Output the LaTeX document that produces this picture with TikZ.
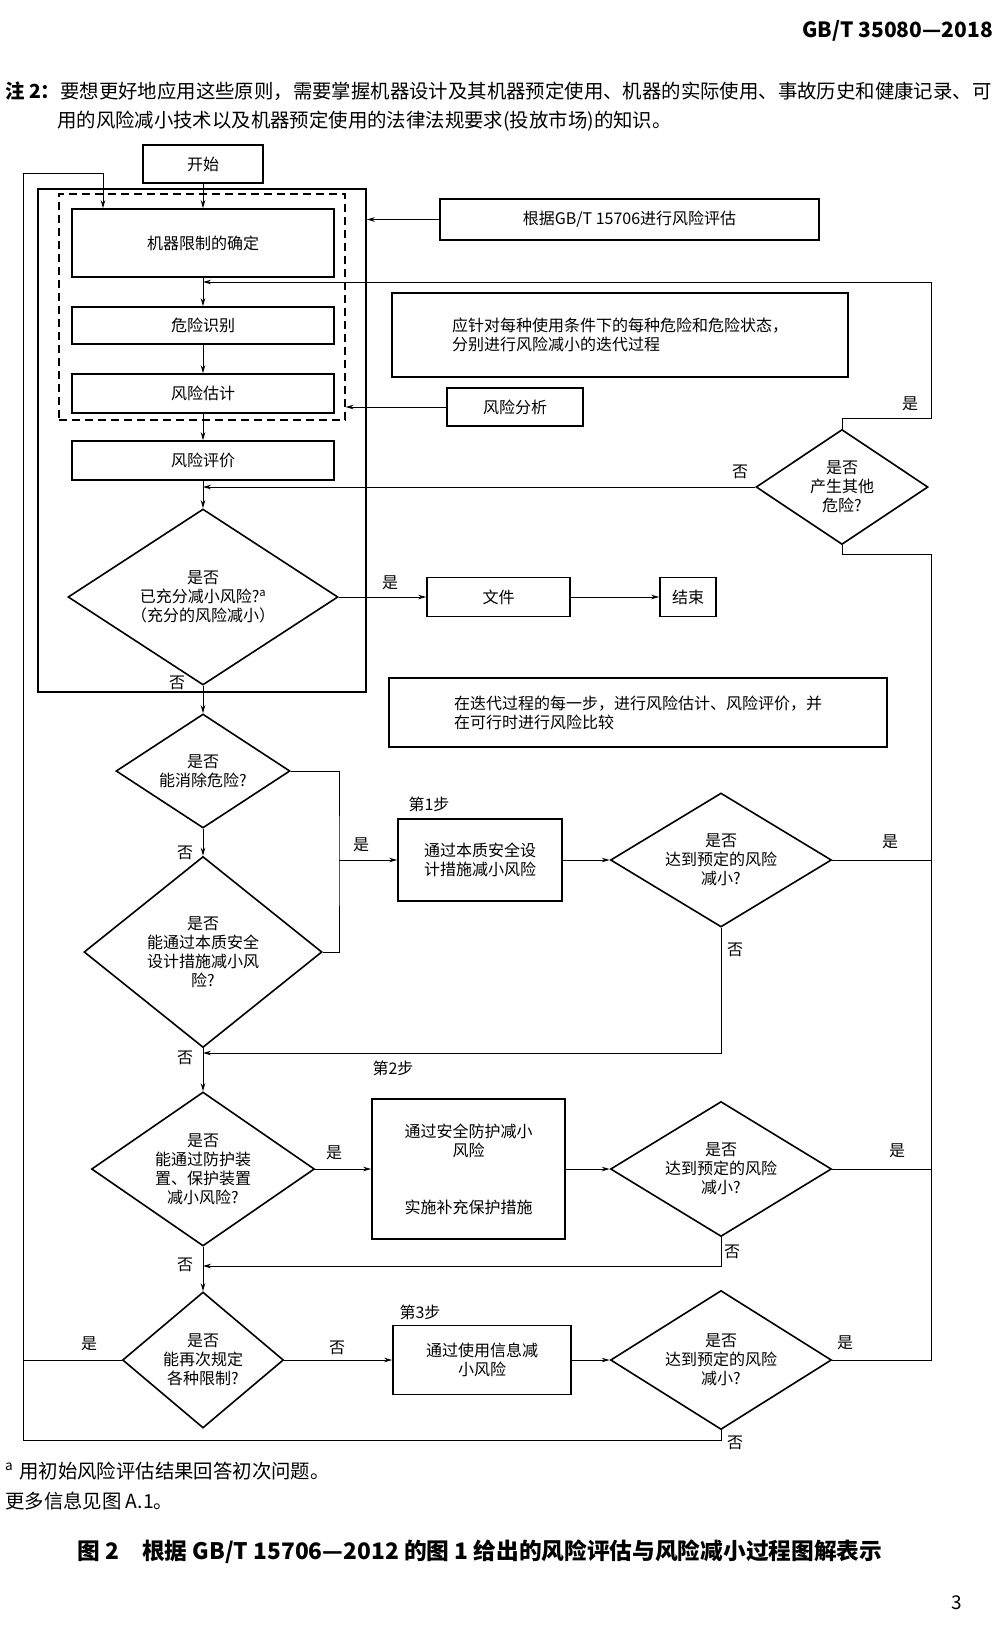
\documentclass[tikz,border=0pt]{standalone}
\usepackage{fontspec}
\setmainfont{Noto Sans CJK SC}
\usetikzlibrary{shapes.geometric,arrows.meta}
\tikzset{
  stepbox/.style={draw, line width=1.6pt, inner sep=2pt, align=center, font=\fontsize{16}{19}\selectfont},
  decision/.style={diamond, draw, line width=1.6pt, inner sep=0pt, shape aspect=1.4, align=center, font=\fontsize{16}{19}\selectfont},
  flow/.style={line width=1pt, -{Stealth[length=8pt,width=4.5pt]}},
  link/.style={line width=1pt},
  lbl/.style={font=\fontsize{16}{19}\selectfont, inner sep=0pt},
  para/.style={anchor=west, inner sep=0pt, font=\fontsize{19.4}{24}\selectfont}
}

\begin{document}
\begin{tikzpicture}[x=1pt,y=-1pt]
\useasboundingbox (0,0) rectangle (1000,1626);
\node[anchor=east, inner sep=0pt, font=\fontsize{21}{24}\selectfont\bfseries] (hdr) at (993,31) {GB/T 35080—2018};
\node[para] (note1) at (5,91) {{\bfseries 注 2：}要想更好地应用这些原则，需要掌握机器设计及其机器预定使用、机器的实际使用、事故历史和健康记录、可};
\node[para] (note2) at (57,121) {用的风险减小技术以及机器预定使用的法律法规要求(投放市场)的知识。};

\node[draw, line width=1.6pt, minimum width=328pt, minimum height=503pt, inner sep=0pt] (outer) at (202,440.5) {};
\node[draw, dash pattern=on 8pt off 5pt, line width=1.2pt, minimum width=286pt, minimum height=226pt, inner sep=0pt] (anabox) at (202,307) {};

\node[stepbox, minimum width=120pt, minimum height=38pt] (start) at (203,164) {开始};
\node[stepbox, minimum width=262pt, minimum height=68pt] (limits) at (203,243) {机器限制的确定};
\node[stepbox, minimum width=262pt, minimum height=37pt] (hazard) at (203,325.5) {危险识别};
\node[stepbox, minimum width=262pt, minimum height=39pt] (estim) at (203,393.5) {风险估计};
\node[stepbox, minimum width=262pt, minimum height=39pt] (evalu) at (203,460.5) {风险评价};
\node[decision, minimum width=270pt, minimum height=176pt] (adequate) at (203,597) {是否\\已充分减小风险?\textsuperscript{a}\\（充分的风险减小）};
\node[stepbox, minimum width=143pt, minimum height=39pt] (docu) at (498.5,597) {文件};
\node[stepbox, minimum width=56pt, minimum height=39pt] (finish) at (688,597) {结束};

\node[stepbox, minimum width=379pt, minimum height=41pt] (assess) at (629.5,219.5) {根据GB/T 15706进行风险评估};
\node[stepbox, minimum width=456pt, minimum height=84pt, align=left] (iterate) at (620,335) {应针对每种使用条件下的每种危险和危险状态，\\分别进行风险减小的迭代过程};
\node[stepbox, minimum width=136pt, minimum height=38pt] (analysis) at (515,407) {风险分析};
\node[decision, minimum width=172pt, minimum height=115pt] (other) at (842,487) {是否\\产生其他\\危险?};
\node[stepbox, minimum width=498pt, minimum height=69pt, align=left] (stepnote) at (638,712.5) {在迭代过程的每一步，进行风险估计、风险评价，并\\在可行时进行风险比较};

\node[decision, minimum width=174pt, minimum height=114pt] (elim) at (203,771) {是否\\能消除危险?};
\node[decision, minimum width=238pt, minimum height=191pt] (inher) at (203,952) {是否\\能通过本质安全\\设计措施减小风\\险?};
\node[stepbox, minimum width=164pt, minimum height=82pt, align=left] (box1) at (480,860) {通过本质安全设\\计措施减小风险};
\node[decision, shape aspect=1.6, minimum width=221pt, minimum height=134pt] (reach1) at (721,860) {是否\\达到预定的风险\\减小?};

\node[decision, minimum width=223pt, minimum height=154pt] (guard) at (203,1169) {是否\\能通过防护装\\置、保护装置\\减小风险?};
\node[stepbox, minimum width=193pt, minimum height=140pt] (box2) at (468.5,1169) {通过安全防护减小\\风险\\[38pt]实施补充保护措施};
\node[decision, shape aspect=1.6, minimum width=221pt, minimum height=135pt] (reach2) at (721,1169) {是否\\达到预定的风险\\减小?};

\node[decision, minimum width=161pt, minimum height=136pt] (limit) at (203,1360) {是否\\能再次规定\\各种限制?};
\node[stepbox, minimum width=178pt, minimum height=69pt] (box3) at (482,1360) {通过使用信息减\\小风险};
\node[decision, shape aspect=1.6, minimum width=221pt, minimum height=139pt] (reach3) at (721,1360) {是否\\达到预定的风险\\减小?};

\node[lbl] (s1) at (429,804) {第1步};
\node[lbl] (s2) at (393,1068) {第2步};
\node[lbl] (s3) at (420,1312) {第3步};

\coordinate (ybus) at (339,860);
\coordinate (rtop) at (931,554);
\coordinate (ytop) at (931,282);
\coordinate (nb1) at (0,1053);
\coordinate (nb2) at (0,1266);
\coordinate (lowbus) at (23,1440);
\coordinate (ltop) at (103,173);

\draw[flow] (start) -- (limits);
\draw[flow] (limits) -- (hazard);
\draw[flow] (hazard) -- (estim);
\draw[flow] (estim) -- (evalu);
\draw[flow] (evalu) -- (adequate);
\draw[flow] (adequate) -- (docu);
\draw[flow] (docu) -- (finish);
\draw[flow] (assess.west) -- (assess.west -| outer.east);
\draw[flow] (analysis.west) -- (analysis.west -| anabox.east);
\draw[flow] (other.north) -- ++(0,-10) -| (ytop) -- (ytop -| hazard.north);
\draw[flow] (other.west) -- (other.west -| adequate.north);

\draw[flow] (adequate) -- (elim);
\draw[flow] (elim) -- (inher);
\draw[link] (elim.east) -| (ybus) |- (inher.east);
\draw[flow] (ybus) -- (box1);
\draw[flow] (box1) -- (reach1);
\draw[link] (reach1.east) -- (reach1.east -| rtop);
\draw[flow] (reach1.south) -- (reach1.south |- nb1) -- (inher.south |- nb1);

\draw[flow] (inher) -- (guard);
\draw[flow] (guard) -- (box2);
\draw[flow] (box2) -- (reach2);
\draw[link] (reach2.east) -- (reach2.east -| rtop);
\draw[flow] (reach2.south) -- (reach2.south |- nb2) -- (guard.south |- nb2);

\draw[flow] (guard) -- (limit);
\draw[flow] (limit) -- (box3);
\draw[flow] (box3) -- (reach3);
\draw[link] (reach3.east) -| (rtop) -| (other.south);
\draw[link] (limit.west) -- (limit.west -| lowbus);
\draw[flow] (reach3.south) |- (lowbus) |- (ltop) -- (ltop |- limits.north);

\node[lbl] at (390,583) {是};
\node[lbl] at (177,683) {否};
\node[lbl] at (910,404) {是};
\node[lbl] at (740,472) {否};
\node[lbl] at (185,853) {否};
\node[lbl] at (361,845) {是};
\node[lbl] at (890,842) {是};
\node[lbl] at (735,950) {否};
\node[lbl] at (185,1058) {否};
\node[lbl] at (334,1153) {是};
\node[lbl] at (897,1151) {是};
\node[lbl] at (732,1252) {否};
\node[lbl] at (185,1265) {否};
\node[lbl] at (89,1344) {是};
\node[lbl] at (337,1348) {否};
\node[lbl] at (845,1343) {是};
\node[lbl, anchor=west] at (727,1443) {否};

\node[para] (foot1) at (5,1471) {\textsuperscript{a}\hspace{6pt}用初始风险评估结果回答初次问题。};
\node[para] (foot2) at (5,1501) {更多信息见图 A.1。};
\node[inner sep=0pt, font=\fontsize{22.7}{26}\selectfont\bfseries] (caption) at (480,1552) {图 2\quad 根据 GB/T 15706—2012 的图 1 给出的风险评估与风险减小过程图解表示};
\node[inner sep=0pt, font=\fontsize{19}{22}\selectfont] (pageno) at (957,1603) {3};
\end{tikzpicture}
\end{document}
